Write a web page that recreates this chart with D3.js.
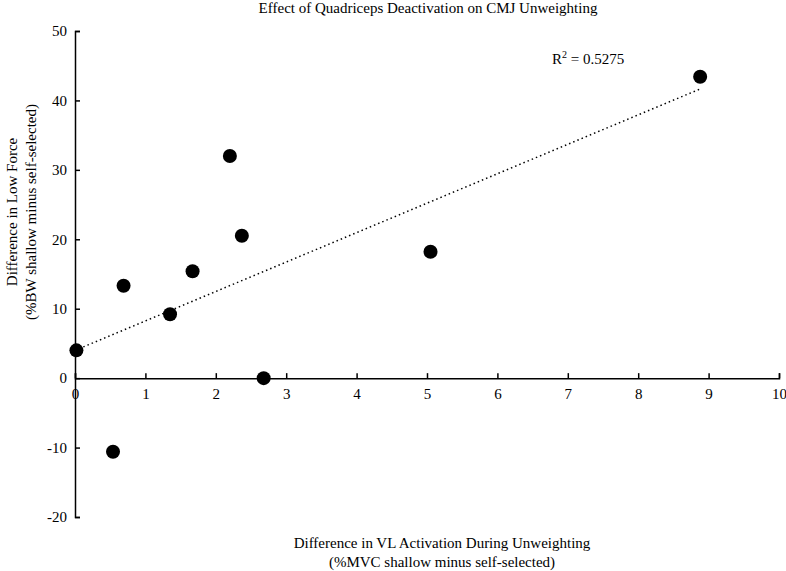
<!DOCTYPE html>
<html>
<head>
<meta charset="utf-8">
<script src="https://cdn.jsdelivr.net/npm/d3@7"></script>
<style>
  body { margin: 0; background: #fff; }
  svg { display: block; font-family: "Liberation Serif", "DejaVu Serif", serif; }
  .axis path, .axis line { stroke: #000; stroke-width: 1.5; }
  .axis text { font-size: 15px; fill: #000; font-family: "Liberation Serif", serif; }
  .label { font-size: 15px; fill: #000; }
</style>
</head>
<body>
<svg id="chart"></svg>
<script>
// values
var vlActivation = [0.02, 0.69, 1.35, 1.67, 2.20, 2.37, 2.68, 5.05, 8.88, 0.54];
var lowForce     = [4.0, 13.3, 9.2, 15.4, 32.0, 20.5, 0.0, 18.2, 43.4, -10.6];
var xTicks = [0, 1, 2, 3, 4, 5, 6, 7, 8, 9, 10];
var yTicks = [-20, -10, 0, 10, 20, 30, 40, 50];
var trendX = [0, 8.88];
var trendIntercept = 4.0;
var trendSlope = 4.24;
var rSquared = '0.5275';

var W = 786, H = 571;
var margin = { top: 31, right: 7, bottom: 54, left: 75 };

var svg = d3.select('#chart').attr('width', W).attr('height', H);

var x = d3.scaleLinear().domain([0, 10]).range([margin.left, W - margin.right]);
var y = d3.scaleLinear().domain([-20, 50]).range([H - margin.bottom, margin.top]);

var points = vlActivation.map((v, i) => ({ x: v, y: lowForce[i] }));
var fmt = d => String(d); // plain hyphen minus like the original

// title
svg.append('text')
  .attr('class', 'label')
  .attr('x', 428).attr('y', 13)
  .attr('text-anchor', 'middle')
  .text('Effect of Quadriceps Deactivation on CMJ Unweighting');

// axes
svg.append('g')
  .attr('class', 'axis y')
  .attr('transform', `translate(${ x(0) }, 0)`)
  .call(d3.axisLeft(y).tickValues(yTicks).tickSize(-5).tickPadding(8).tickFormat(fmt));

svg.append('g')
  .attr('class', 'axis x')
  .attr('transform', `translate(0, ${ y(0) })`)
  .call(d3.axisBottom(x).tickValues(xTicks).tickSize(-5).tickPadding(10).tickFormat(fmt));

// trendline
svg.append('line')
  .attr('x1', x(trendX[0])).attr('y1', y(trendIntercept + trendSlope * trendX[0]))
  .attr('x2', x(trendX[1])).attr('y2', y(trendIntercept + trendSlope * trendX[1]))
  .attr('stroke', '#000')
  .attr('stroke-width', 1.5)
  .attr('stroke-dasharray', '1.5,3');

// points
svg.append('g').selectAll('circle')
  .data(points)
  .enter().append('circle')
    .attr('cx', d => x(d.x))
    .attr('cy', d => y(d.y))
    .attr('r', 7)
    .attr('fill', '#000');

// R squared
var r2 = svg.append('text')
  .attr('class', 'label')
  .attr('x', 552).attr('y', 64);
r2.append('tspan').text('R');
r2.append('tspan').attr('dy', -6).attr('font-size', 10).text('2');
r2.append('tspan').attr('dy', 6).text(' = ' + rSquared);

// x label
var xl = svg.append('text')
  .attr('class', 'label')
  .attr('text-anchor', 'middle');
xl.append('tspan').attr('x', 442).attr('y', 548).text('Difference in VL Activation During Unweighting');
xl.append('tspan').attr('x', 442).attr('y', 567).text('(%MVC shallow minus self-selected)');

// y label
var yl = svg.append('text')
  .attr('class', 'label')
  .attr('text-anchor', 'middle')
  .attr('transform', 'translate(0, 212) rotate(-90)');
yl.append('tspan').attr('x', 0).attr('y', 17).text('Difference in Low Force');
yl.append('tspan').attr('x', 0).attr('y', 36).text('(%BW shallow minus self-selected)');
</script>
</body>
</html>
